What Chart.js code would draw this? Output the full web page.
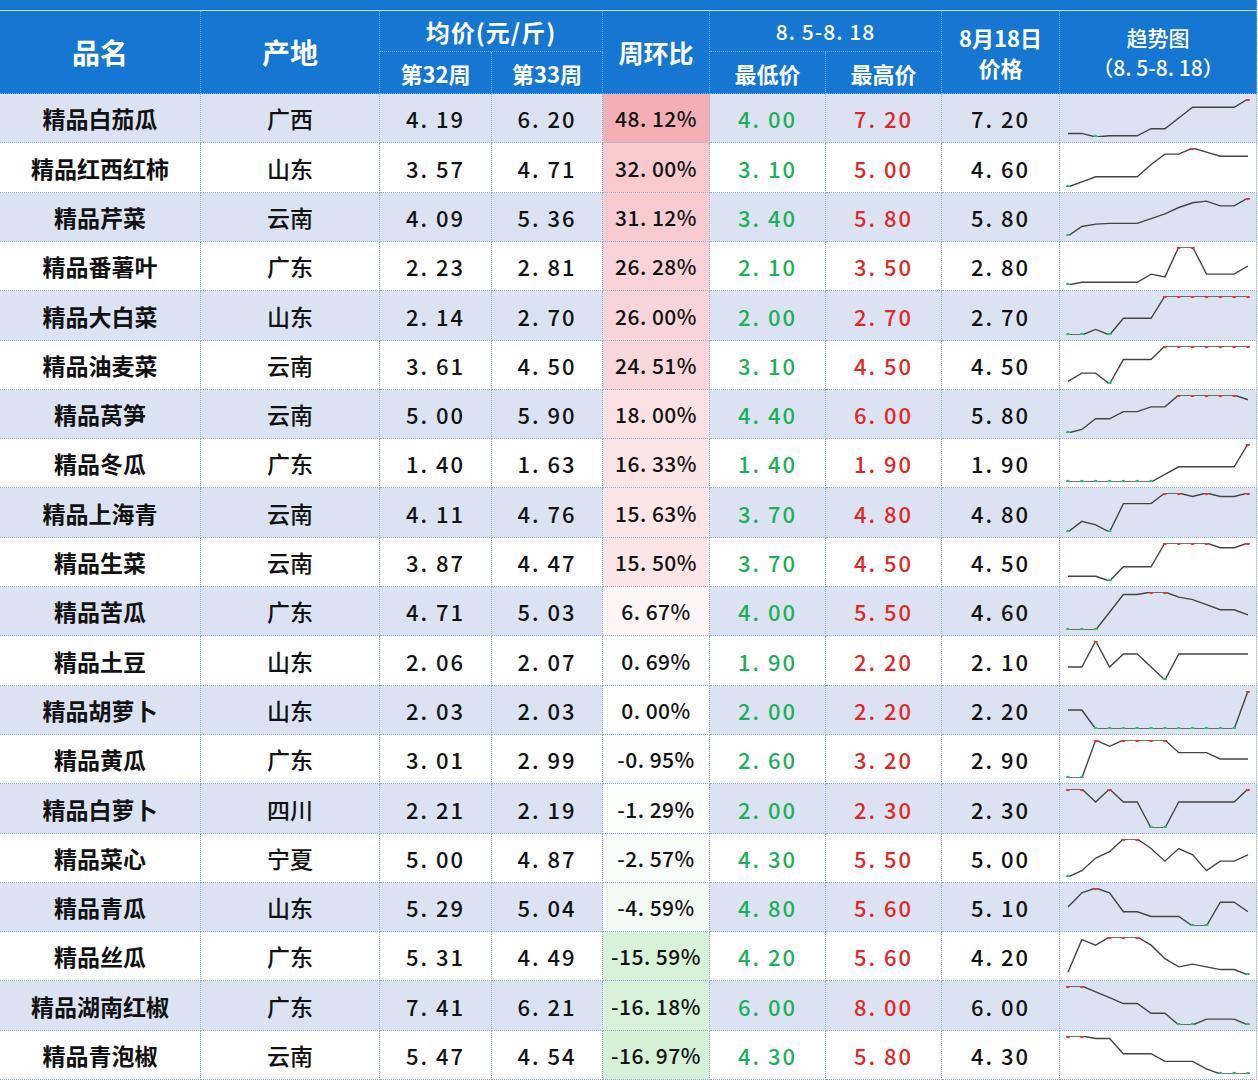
<!DOCTYPE html>
<html><head><meta charset="utf-8">
<script src="https://cdn.jsdelivr.net/npm/chart.js@4"></script>
<style>
body{margin:0;width:1258px;height:1080px;overflow:hidden;background:#fff;font-family:"Noto Sans CJK SC",sans-serif;}
#wrap{position:absolute;left:0;top:0;width:1258px;height:1080px;}
.c{position:absolute;box-sizing:border-box;display:flex;align-items:center;justify-content:center;border-right:1px dotted #8fb1dc;border-bottom:1px dotted #8fb1dc;font-size:22px;color:#111;font-weight:500;}
.h{background:#1677d2;color:#fff;border-color:#6fa8e6;font-size:24px;font-weight:bold;}
.num{letter-spacing:2px;}
.name{font-weight:bold;font-size:23px;}
canvas{display:block}
</style></head><body><div id="wrap"></div>
<script>
const names=["精品白茄瓜","精品红西红柿","精品芹菜","精品番薯叶","精品大白菜","精品油麦菜","精品莴笋","精品冬瓜","精品上海青","精品生菜","精品苦瓜","精品土豆","精品胡萝卜","精品黄瓜","精品白萝卜","精品菜心","精品青瓜","精品丝瓜","精品湖南红椒","精品青泡椒"];
const origins=["广西","山东","云南","广东","山东","云南","云南","广东","云南","云南","广东","山东","山东","广东","四川","宁夏","山东","广东","广东","云南"];
const week32=["4.19","3.57","4.09","2.23","2.14","3.61","5.00","1.40","4.11","3.87","4.71","2.06","2.03","3.01","2.21","5.00","5.29","5.31","7.41","5.47"];
const week33=["6.20","4.71","5.36","2.81","2.70","4.50","5.90","1.63","4.76","4.47","5.03","2.07","2.03","2.99","2.19","4.87","5.04","4.49","6.21","4.54"];
const change=[48.12,32.00,31.12,26.28,26.00,24.51,18.00,16.33,15.63,15.50,6.67,0.69,0.00,-0.95,-1.29,-2.57,-4.59,-15.59,-16.18,-16.97];
const minPrice=["4.00","3.10","3.40","2.10","2.00","3.10","4.40","1.40","3.70","3.70","4.00","1.90","2.00","2.60","2.00","4.30","4.80","4.20","6.00","4.30"];
const maxPrice=["7.20","5.00","5.80","3.50","2.70","4.50","6.00","1.90","4.80","4.50","5.50","2.20","2.20","3.20","2.30","5.50","5.60","5.60","8.00","5.80"];
const price818=["7.20","4.60","5.80","2.80","2.70","4.50","5.80","1.90","4.80","4.50","4.60","2.10","2.20","2.90","2.30","5.00","5.10","4.20","6.00","4.30"];
const days=["8.5","8.6","8.7","8.8","8.9","8.10","8.11","8.12","8.13","8.14","8.15","8.16","8.17","8.18"];
const trend=[
[4.3,4.3,4.0,4.1,4.1,4.1,4.7,4.7,5.6,6.5,6.5,6.5,6.5,7.2],
[3.1,3.35,3.6,3.6,3.6,3.6,4.2,4.7,4.7,5.0,4.8,4.6,4.6,4.6],
[3.4,4.0,4.15,4.2,4.2,4.2,4.5,4.8,5.2,5.5,5.6,5.3,5.3,5.8],
[2.1,2.2,2.2,2.2,2.2,2.2,2.5,2.4,3.5,3.5,2.5,2.5,2.5,2.8],
[2.0,2.0,2.1,2.0,2.3,2.3,2.3,2.7,2.7,2.7,2.7,2.7,2.7,2.7],
[3.2,3.5,3.5,3.1,4.0,4.0,4.0,4.5,4.5,4.5,4.5,4.5,4.5,4.5],
[4.4,4.55,5.0,5.0,5.3,5.3,5.5,5.5,6.0,6.0,6.0,6.0,6.0,5.8],
[1.4,1.4,1.4,1.4,1.4,1.4,1.4,1.5,1.6,1.6,1.6,1.6,1.6,1.9],
[3.7,4.0,3.9,3.7,4.5,4.5,4.5,4.8,4.8,4.7,4.8,4.7,4.7,4.8],
[3.8,3.8,3.8,3.7,4.0,4.0,4.0,4.5,4.5,4.5,4.5,4.4,4.4,4.5],
[4.0,4.0,4.0,4.7,5.4,5.4,5.5,5.5,5.3,5.2,5.0,4.8,4.8,4.6],
[2.0,2.0,2.2,2.0,2.1,2.1,2.0,1.9,2.1,2.1,2.1,2.1,2.1,2.1],
[2.1,2.1,2.0,2.0,2.0,2.0,2.0,2.0,2.0,2.0,2.0,2.0,2.0,2.2],
[2.6,2.6,3.2,3.1,3.2,3.2,3.2,3.2,3.0,3.0,3.0,2.9,2.9,2.9],
[2.3,2.3,2.2,2.3,2.2,2.2,2.0,2.0,2.2,2.2,2.2,2.2,2.2,2.3],
[4.3,4.5,4.9,5.1,5.5,5.5,5.2,4.8,5.2,5.0,4.5,4.8,4.8,5.0],
[5.2,5.5,5.6,5.5,5.1,5.1,5.0,5.0,5.0,4.8,4.8,5.3,5.3,5.1],
[4.3,5.5,5.3,5.6,5.6,5.6,5.3,4.8,4.5,4.6,4.5,4.4,4.4,4.2],
[8.0,8.0,7.7,7.4,7.1,7.1,6.6,6.6,6.0,6.0,6.3,6.3,6.3,6.0],
[5.8,5.8,5.7,5.7,5.1,5.1,5.1,4.8,4.8,4.8,4.5,4.3,4.3,4.3]];

const W=document.getElementById('wrap');
function cell(x,y,w,h,html,cls,style){const d=document.createElement('div');d.className='c '+(cls||'');d.style.cssText=`left:${x}px;top:${y}px;width:${w}px;height:${h}px;`+(style||'');d.innerHTML=html;W.appendChild(d);return d;}
const X=[0,201,380,492,603,710,826,942,1060,1257];
cell(0,0,1257,11,'','h','border-bottom:1px solid #cfe0f5');
const H0=11,H1=52,H2=94;
cell(X[0],H0,X[1]-X[0],H2-H0,'品名','h','font-size:28px');
cell(X[1],H0,X[2]-X[1],H2-H0,'产地','h','font-size:28px');
cell(X[2],H0,X[4]-X[2],H1-H0,'均价(元/斤)','h','letter-spacing:1px');
cell(X[2],H1,X[3]-X[2],H2-H1,'第32周','h','font-size:22px');
cell(X[3],H1,X[4]-X[3],H2-H1,'第33周','h','font-size:22px');
cell(X[4],H0,X[5]-X[4],H2-H0,'周环比','h','font-size:25px');
cell(X[5],H0,X[7]-X[5],H1-H0,'8. 5-8. 18','h','font-size:21px;letter-spacing:1px;font-weight:500');
cell(X[5],H1,X[6]-X[5],H2-H1,'最低价','h','font-size:22px');
cell(X[6],H1,X[7]-X[6],H2-H1,'最高价','h','font-size:22px');
cell(X[7],H0,X[8]-X[7],H2-H0,'8月18日<br>价格','h','font-size:22px;line-height:30px;text-align:center;flex-direction:column');
cell(X[8],H0,X[9]-X[8],H2-H0,'趋势图<br>（8. 5-8. 18）','h','font-size:21px;line-height:30px;text-align:center;flex-direction:column;font-weight:500');

function fmt(s){return s.replace('.','. ');}
function chgColor(v){
  if(v>=0){const f=Math.min(v/48.12,1);const r=Math.round(255-(255-244)*f),g=Math.round(255-(255-175)*f),b=Math.round(255-(255-182)*f);return `rgb(${r},${g},${b})`;}
  const f=Math.min(-v/16.97,1);const r=Math.round(255-(255-214)*f),g=Math.round(255-(255-240)*f),b=Math.round(255-(255-214)*f);return `rgb(${r},${g},${b})`;
}
const RH=49.3;
for(let i=0;i<names.length;i++){
  const y=Math.round(H2+i*RH),h=Math.round(H2+(i+1)*RH)-y;
  const bg=i%2===0?'#dbe3f3':'#ffffff';
  const s='background:'+bg+';';
  cell(X[0],y,X[1]-X[0],h,names[i],'name',s);
  cell(X[1],y,X[2]-X[1],h,origins[i],'',s+'font-size:23px');
  cell(X[2],y,X[3]-X[2],h,fmt(week32[i]),'num',s);
  cell(X[3],y,X[4]-X[3],h,fmt(week33[i]),'num',s);
  const cs=change[i].toFixed(2);
  cell(X[4],y,X[5]-X[4],h,fmt(cs)+'%','num','background:'+chgColor(change[i])+';letter-spacing:0.5px;font-size:21px');
  cell(X[5],y,X[6]-X[5],h,fmt(minPrice[i]),'num',s+'color:#1fae5a');
  cell(X[6],y,X[7]-X[6],h,fmt(maxPrice[i]),'num',s+'color:#e02828');
  cell(X[7],y,X[8]-X[7],h,fmt(price818[i]),'num',s);
  const d=cell(X[8],y,X[9]-X[8],h,'','',s+'padding:0');
  const cv=document.createElement('canvas');cv.width=X[9]-X[8]-1;cv.height=h-1;cv.style.width=cv.width+'px';cv.style.height=cv.height+'px';d.appendChild(cv);
  const data=trend[i],mn=Math.min(...data),mx=Math.max(...data);
  new Chart(cv,{type:'line',data:{labels:days,datasets:[{data:data,borderColor:'#444',borderWidth:1.4,tension:0,
    pointRadius:data.map(v=>(v===mn||v===mx)?2.2:0),
    pointBackgroundColor:data.map(v=>v===mx?'#e53935':'#2fbf6a'),pointBorderWidth:0}]},
    options:{responsive:false,animation:false,events:[],layout:{padding:{left:8,right:8,top:5,bottom:5}},
      plugins:{legend:{display:false},tooltip:{enabled:false}},
      scales:{x:{display:false},y:{display:false,min:mn,max:mx}}}});
}
</script></body></html>
